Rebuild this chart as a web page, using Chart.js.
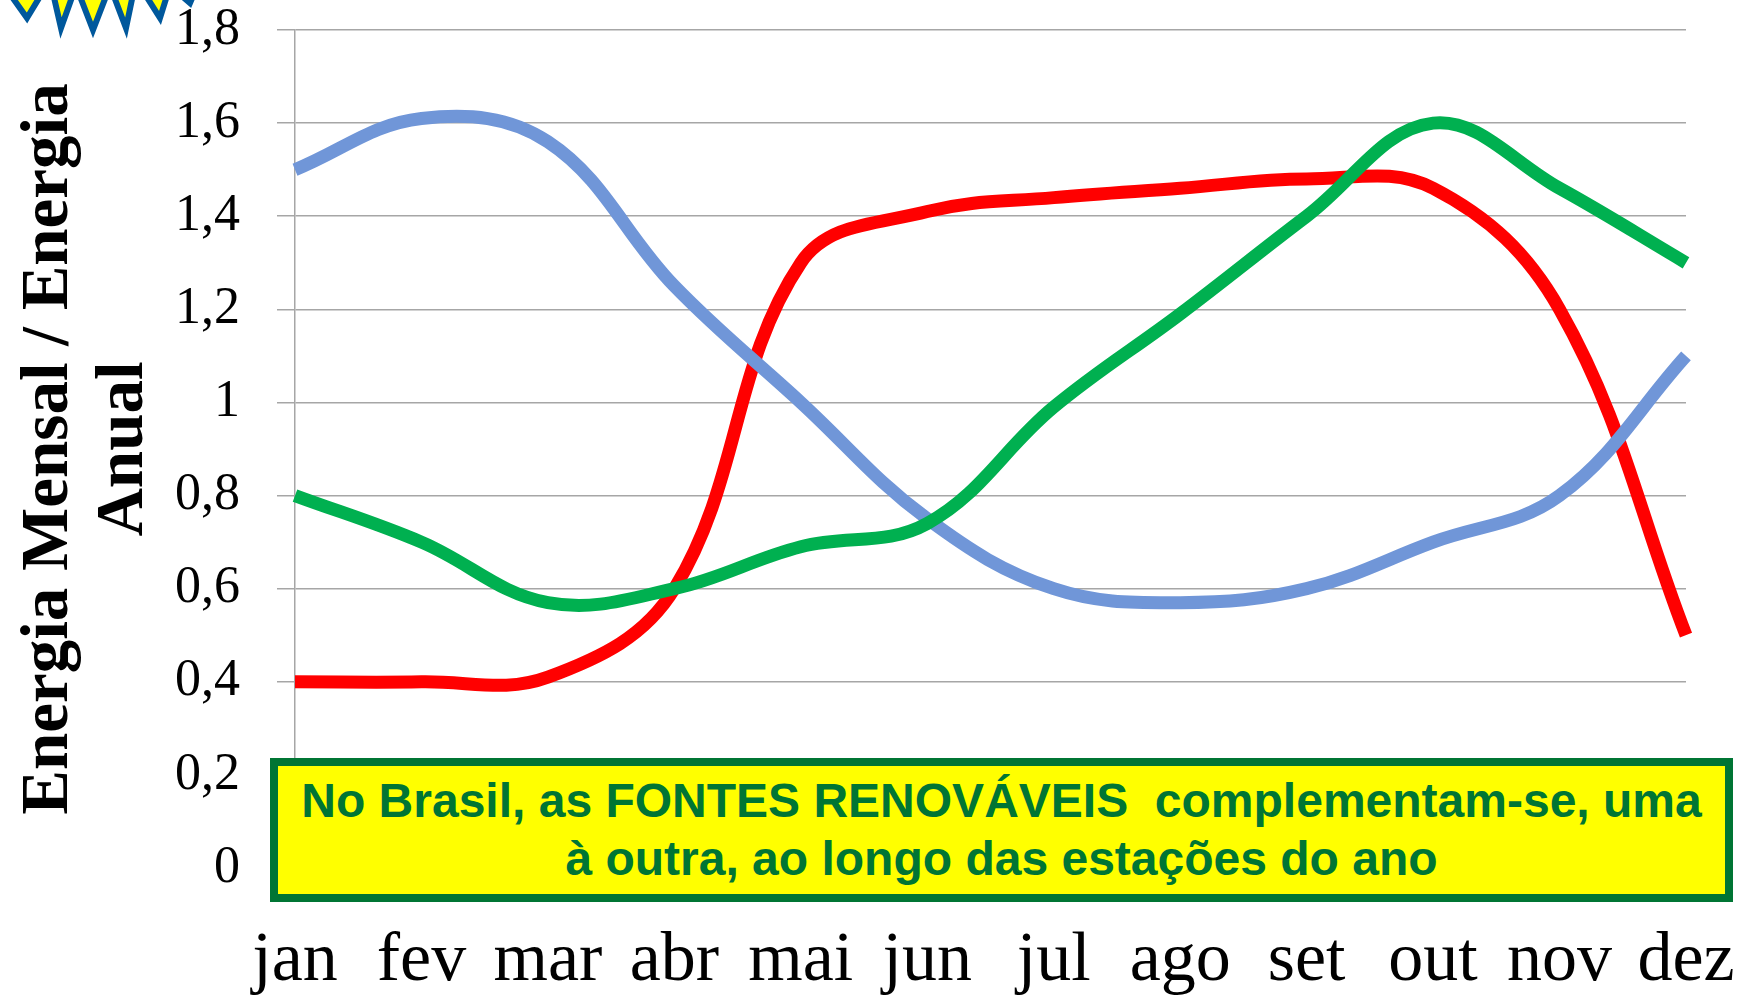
<!DOCTYPE html>
<html><head><meta charset="utf-8">
<script src="https://cdn.jsdelivr.net/npm/chart.js@4/dist/chart.umd.min.js"></script>
<style>
html,body{margin:0;padding:0;background:#fff;overflow:hidden}
#wrap{position:relative;width:1752px;height:995px}
#box{position:absolute;left:270px;top:758px;width:1447px;height:128px;border:8px solid #007534;background:#ff0;color:#007534;
font:bold 48px/58px "Liberation Sans",Arial,sans-serif;text-align:center;white-space:pre;display:flex;align-items:center;justify-content:center}
#sun{position:absolute;left:0;top:0}
</style></head><body>
<div id="wrap">
<canvas id="c" width="1752" height="995" style="display:block"></canvas>
<svg id="sun" width="220" height="40"><polygon points="27,18 50,-20 61,28 76,-14 93,30 110,-14 126,28 136,-20 160,18 170,-14 190,3 200,-20 0,-20" fill="#ff0" stroke="#00589c" stroke-width="6"/></svg>
<div id="box">No Brasil, as FONTES RENOVÁVEIS  complementam-se, uma
à outra, ao longo das estações do ano</div>
</div>
<script>
const months=['jan','fev','mar','abr','mai','jun','jul','ago','set','out','nov','dez'];
const yTickLabels=['0','0,2','0,4','0,6','0,8','1','1,2','1,4','1,6','1,8'];
const hidro=[1.5,1.61,1.56,1.25,1.0,0.75,0.6,0.57,0.6,0.7,0.8,1.1];
const eolica=[0.4,0.4,0.41,0.6,1.3,1.41,1.44,1.46,1.48,1.46,1.2,0.5];
const biomassa=[0.8,0.7,0.57,0.6,0.69,0.74,0.99,1.19,1.4,1.6,1.46,1.3];
const line=(data,color)=>({data,borderColor:color,borderWidth:13,pointRadius:0,tension:0.38,fill:false,borderCapStyle:'butt'});
new Chart(document.getElementById('c'),{
 type:'line',
 data:{labels:months,datasets:[line(biomassa,'#00B050'),line(hidro,'#7096D8'),line(eolica,'#FF0000')]},
 options:{
  responsive:false,animation:false,
  layout:{padding:{top:30,right:66,left:0,bottom:0}},
  plugins:{legend:{display:false},tooltip:{enabled:false}},
  scales:{
   x:{offset:false,
      afterFit(s){s.height=127;s.paddingLeft=0;s.paddingRight=0;},
      grid:{display:false},border:{display:true,color:'#a6a6a6'},
      ticks:{color:'#000',autoSkip:false,maxRotation:0,minRotation:0,padding:44,font:{family:'"Liberation Serif"',size:70}}},
   y:{min:0,max:1.8,
      afterFit(s){s.width=295;s.paddingTop=0;s.paddingBottom=0;},
      grid:{color:'#a6a6a6',lineWidth:1.5,tickLength:18},border:{display:true,color:'#a6a6a6',width:1.5},
      ticks:{stepSize:0.2,color:'#000',padding:37,font:{family:'"Liberation Serif"',size:52},callback:(v,i)=>yTickLabels[i]},
      title:{display:true,text:['Energia Mensal / Energia','Anual'],color:'#000',padding:{top:12,bottom:0},font:{family:'"Liberation Serif"',size:67,weight:'bold',lineHeight:1.12}}}
  }
 }
});
</script></body></html>
